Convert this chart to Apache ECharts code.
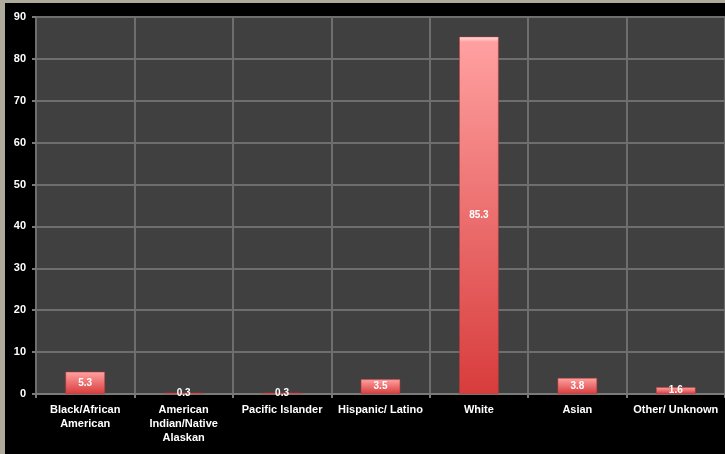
<!DOCTYPE html>
<html><head><meta charset="utf-8">
<script src="https://cdn.jsdelivr.net/npm/echarts@6/dist/echarts.min.js"></script>
<style>html,body{margin:0;padding:0;background:#000}#c{width:725px;height:454px}</style>
</head><body><div id="c"></div>
<script>
const categories = ["Black/African\nAmerican", "American\nIndian/Native\nAlaskan", "Pacific Islander", "Hispanic/ Latino", "White", "Asian", "Other/ Unknown"];
const values = [5.3, 0.3, 0.3, 3.5, 85.3, 3.8, 1.6];
const yTicks = [0, 10, 20, 30, 40, 50, 60, 70, 80, 90];

const chart = echarts.init(document.getElementById('c'));
chart.setOption({
  backgroundColor: '#000',
  animation: false,
  grid: { left: 36, right: 0, top: 17, bottom: 60, show: true, backgroundColor: '#404040', borderWidth: 0 },
  xAxis: {
    type: 'category', data: categories,
    axisLine: { lineStyle: { color: '#7a7a7a', width: 2 } },
    axisTick: { show: true, length: 4, lineStyle: { color: '#7a7a7a', width: 2 } },
    splitLine: { show: true, lineStyle: { color: '#6e6e6e', width: 2 } },
    axisLabel: { color: '#fff', fontFamily: 'Liberation Sans, Arial', fontWeight: 'bold', fontSize: 11, lineHeight: 14, margin: 9, interval: 0 }
  },
  yAxis: {
    type: 'value', min: yTicks[0], max: yTicks[yTicks.length - 1], interval: 10,
    axisLine: { show: false },
    axisTick: { show: true, length: 4, lineStyle: { color: '#7a7a7a', width: 2 } },
    splitLine: { show: true, lineStyle: { color: '#6e6e6e', width: 2 } },
    axisLabel: { color: '#fff', fontFamily: 'Liberation Sans, Arial', fontWeight: 'bold', fontSize: 11, margin: 10 }
  },
  series: [{
    type: 'bar', data: values, barWidth: '40%',
    itemStyle: {
      color: new echarts.graphic.LinearGradient(0, 0, 0, 1, [
        { offset: 0, color: '#ffe0e0' },
        { offset: 0.015, color: '#ffa0a0' },
        { offset: 1, color: '#d83c3c' }
      ]),
      borderColor: '#c03838', borderWidth: 0.5
    },
    label: { show: true, position: 'inside', color: '#fff', fontFamily: 'Liberation Sans, Arial', fontWeight: 'bold', fontSize: 10 }
  }],
  graphic: [
    { type: 'rect', shape: { x: 0, y: 0, width: 5, height: 454 }, style: { fill: '#aeab9c' }, z: 100 },
    { type: 'rect', shape: { x: 0, y: 0, width: 725, height: 3 }, style: { fill: '#aeab9c' }, z: 100 }
  ]
});
</script></body></html>
